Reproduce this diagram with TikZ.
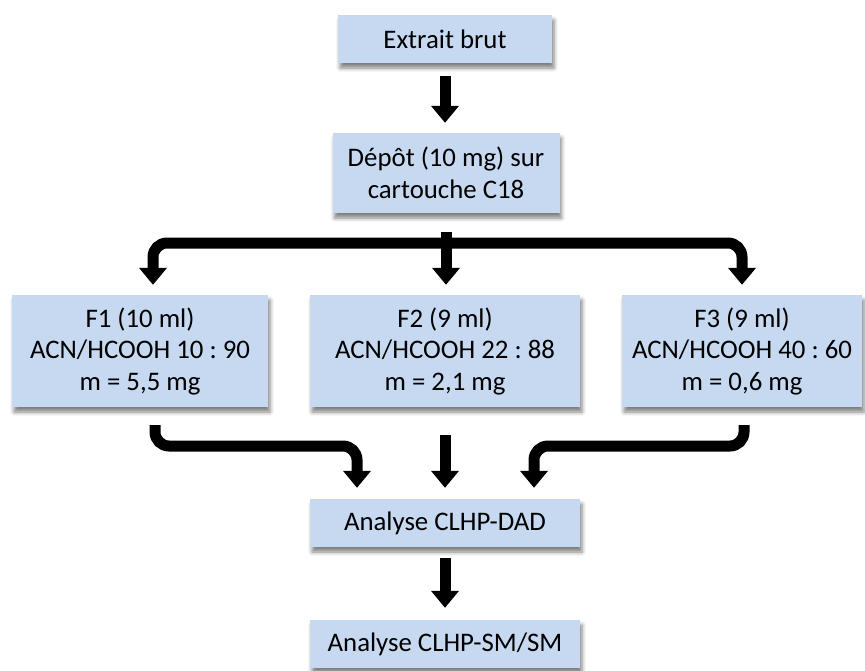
\documentclass[tikz,border=0pt]{standalone}
\usepackage{fontspec}
\setmainfont{Carlito}
\frenchspacing
\usetikzlibrary{arrows.meta,shadows.blur}
\definecolor{boxblue}{RGB}{198,217,240}
\begin{document}
\begin{tikzpicture}[x=1pt,y=-1pt,
  box/.style={fill=boxblue, inner sep=0pt, align=center,
    font=\fontsize{26.8}{31.5}\selectfont,
    blur shadow={shadow xshift=2pt, shadow yshift=-5pt,
      shadow blur radius=4pt, shadow opacity=50}},
  flow/.style={line width=11pt, -{Triangle[width=27pt,length=17pt]}}]
  \useasboundingbox (0,0) rectangle (865,670);
  % boxes
  \node[box, minimum width=214pt, minimum height=48pt] (extrait) at (445,39) {Extrait brut};
  \node[box, minimum width=227pt, minimum height=80pt] (depot) at (446,173)
    {Dépôt (10 mg) sur\\cartouche C18};
  \node[box, minimum width=256pt, minimum height=112pt] (f1) at (140,351)
    {F1 (10 ml)\\ACN/HCOOH 10 : 90\\m = 5,5 mg};
  \node[box, minimum width=270pt, minimum height=112pt] (f2) at (445,351)
    {F2 (9 ml)\\ACN/HCOOH 22 : 88\\m = 2,1 mg};
  \node[box, minimum width=240pt, minimum height=112pt] (f3) at (742,351)
    {F3 (9 ml)\\ACN/HCOOH 40 : 60\\m = 0,6 mg};
  \node[box, minimum width=270pt, minimum height=48pt] (dad) at (445,523) {Analyse CLHP-DAD};
  \node[box, minimum width=270pt, minimum height=48pt] (sm) at (445,644) {Analyse CLHP-SM/SM};
  \coordinate (split) at (446,243);
  \coordinate (join) at (445,446);
  % arrows
  \draw[flow, shorten <=13pt, shorten >=10pt] (extrait.south) -- (extrait.south |- depot.north);
  \draw[flow, shorten <=19pt, shorten >=10pt] (depot.south) -- (depot.south |- f2.north);
  \draw[flow, rounded corners=14pt, shorten >=10pt] (split) -| ([xshift=13pt]f1.north);
  \draw[flow, rounded corners=14pt, shorten >=10pt] (split) -| (f3.north);
  \draw[flow, rounded corners=14pt, shorten <=18pt, shorten >=11pt]
    ([xshift=15pt]f1.south) |- ([xshift=-88pt]dad.north |- join) -- ([xshift=-88pt]dad.north);
  \draw[flow, rounded corners=14pt, shorten <=18pt, shorten >=11pt]
    ([xshift=2pt]f3.south) |- ([xshift=89pt]dad.north |- join) -- ([xshift=89pt]dad.north);
  \draw[flow, shorten <=28pt, shorten >=11pt] (f2.south) -- (dad.north);
  \draw[flow, shorten <=11pt, shorten >=12pt] (dad.south) -- (sm.north);
\end{tikzpicture}
\end{document}
